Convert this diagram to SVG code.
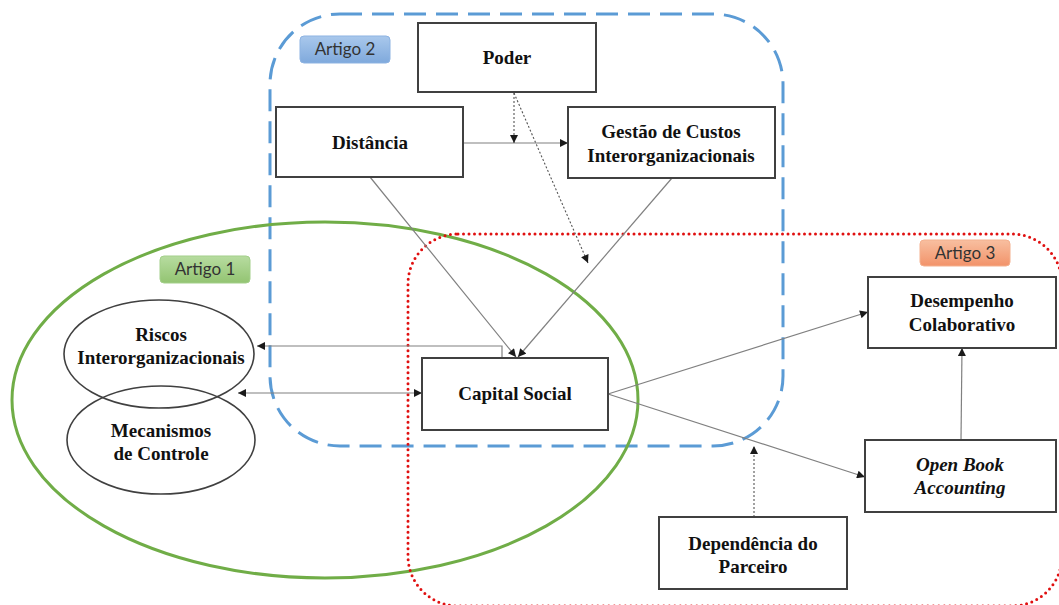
<svg xmlns="http://www.w3.org/2000/svg" width="1059" height="605" viewBox="0 0 1059 605">
  <defs>
    <style>
      .box { fill: #ffffff; stroke: #404040; stroke-width: 2; }
      .oval { fill: none; stroke: #404040; stroke-width: 1.6; }
      .lbl { font-family: "Liberation Serif", "Times New Roman", serif; font-weight: bold; font-size: 19px; fill: #111; text-anchor: middle; }
      .it { font-style: italic; }
      .tag { font-family: Lato, "Open Sans", sans-serif; font-size: 17px; fill: #333; text-anchor: middle; }
      .conn { fill: none; stroke: #808080; stroke-width: 1.2; }
      .dot { fill: none; stroke: #555; stroke-width: 1.1; stroke-dasharray: 2 2; }
    </style>
    <marker id="arr" viewBox="0 0 10 10" refX="10" refY="5" markerWidth="9" markerHeight="8" markerUnits="userSpaceOnUse" orient="auto-start-reverse">
      <path d="M0,0 L10,5 L0,10 z" fill="#1a1a1a"/>
    </marker>
    <linearGradient id="gBlue" x1="0" y1="0" x2="0" y2="1">
      <stop offset="0" stop-color="#a9c8ec"/>
      <stop offset="1" stop-color="#7fa9dc"/>
    </linearGradient>
    <linearGradient id="gGreen" x1="0" y1="0" x2="0" y2="1">
      <stop offset="0" stop-color="#b7dca0"/>
      <stop offset="1" stop-color="#93c472"/>
    </linearGradient>
    <linearGradient id="gOrange" x1="0" y1="0" x2="0" y2="1">
      <stop offset="0" stop-color="#f8bfa0"/>
      <stop offset="1" stop-color="#f2936a"/>
    </linearGradient>
  </defs>

  <rect width="1059" height="605" fill="#ffffff"/>

  <!-- grouping regions -->
  <g id="regions">
    <rect x="270" y="14" width="513" height="432" rx="70" ry="70" fill="none" stroke="#5b9bd5" stroke-width="3" stroke-dasharray="22 10"/>
    <ellipse cx="325" cy="400" rx="313" ry="178" fill="none" stroke="#70ad47" stroke-width="3"/>
    <rect x="408" y="234" width="654" height="372" rx="50" ry="50" fill="none" stroke="#e01010" stroke-width="3" stroke-dasharray="0 5.5" stroke-linecap="round"/>
  </g>

  <!-- article tags -->
  <g id="tag-artigo2">
    <rect x="300" y="36" width="90" height="27" rx="4" fill="url(#gBlue)" stroke="#8db3e2" stroke-width="1"/>
    <text class="tag" x="345" y="55">Artigo 2</text>
  </g>
  <g id="tag-artigo1">
    <rect x="160" y="256" width="90" height="27" rx="4" fill="url(#gGreen)" stroke="#a3cf8a" stroke-width="1"/>
    <text class="tag" x="205" y="275">Artigo 1</text>
  </g>
  <g id="tag-artigo3">
    <rect x="920" y="240" width="90" height="26" rx="4" fill="url(#gOrange)" stroke="#f4b08e" stroke-width="1"/>
    <text class="tag" x="965" y="259">Artigo 3</text>
  </g>

  <!-- connectors -->
  <g id="connectors">
    <line class="conn" x1="463" y1="143" x2="568" y2="143" marker-end="url(#arr)"/>
    <line class="dot" x1="514" y1="93" x2="514" y2="143" marker-end="url(#arr)"/>
    <line class="dot" x1="514" y1="93" x2="588" y2="263" marker-end="url(#arr)"/>
    <line class="conn" x1="370" y1="177" x2="516" y2="357" marker-end="url(#arr)"/>
    <line class="conn" x1="672" y1="178" x2="518" y2="357" marker-end="url(#arr)"/>
    <polyline class="conn" points="502,358 502,346 257,346" marker-end="url(#arr)"/>
    <line class="conn" x1="238" y1="393" x2="422" y2="393" marker-start="url(#arr)" marker-end="url(#arr)"/>
    <line class="conn" x1="608" y1="394" x2="868" y2="312" marker-end="url(#arr)"/>
    <line class="conn" x1="608" y1="394" x2="865" y2="477" marker-end="url(#arr)"/>
    <line class="conn" x1="961" y1="440" x2="962" y2="348" marker-end="url(#arr)"/>
    <line class="dot" x1="754" y1="517" x2="754" y2="446" marker-end="url(#arr)"/>
  </g>

  <!-- nodes -->
  <g id="node-poder">
    <rect class="box" x="418" y="23" width="178" height="69"/>
    <text class="lbl" x="507" y="64">Poder</text>
  </g>
  <g id="node-distancia">
    <rect class="box" x="276" y="107" width="187" height="70"/>
    <text class="lbl" x="370" y="149">Distância</text>
  </g>
  <g id="node-gestao">
    <rect class="box" x="568" y="107" width="207" height="71"/>
    <text class="lbl" x="671" y="138">Gestão de Custos</text>
    <text class="lbl" x="671" y="162">Interorganizacionais</text>
  </g>
  <g id="node-capital">
    <rect class="box" x="422" y="358" width="186" height="72"/>
    <text class="lbl" x="515" y="400">Capital Social</text>
  </g>
  <g id="node-riscos">
    <ellipse class="oval" cx="159" cy="354" rx="95" ry="54"/>
    <text class="lbl" x="161" y="341">Riscos</text>
    <text class="lbl" x="161" y="364">Interorganizacionais</text>
  </g>
  <g id="node-mecanismos">
    <ellipse class="oval" cx="161" cy="440" rx="94" ry="54"/>
    <text class="lbl" x="161" y="437">Mecanismos</text>
    <text class="lbl" x="161" y="460">de Controle</text>
  </g>
  <g id="node-desempenho">
    <rect class="box" x="868" y="277" width="188" height="71"/>
    <text class="lbl" x="962" y="307">Desempenho</text>
    <text class="lbl" x="962" y="331">Colaborativo</text>
  </g>
  <g id="node-openbook">
    <rect class="box" x="865" y="440" width="191" height="72"/>
    <text class="lbl it" x="960" y="471">Open Book</text>
    <text class="lbl it" x="960" y="494">Accounting</text>
  </g>
  <g id="node-dependencia">
    <rect class="box" x="659" y="517" width="188" height="72"/>
    <text class="lbl" x="753" y="550">Dependência do</text>
    <text class="lbl" x="753" y="573">Parceiro</text>
  </g>
</svg>
